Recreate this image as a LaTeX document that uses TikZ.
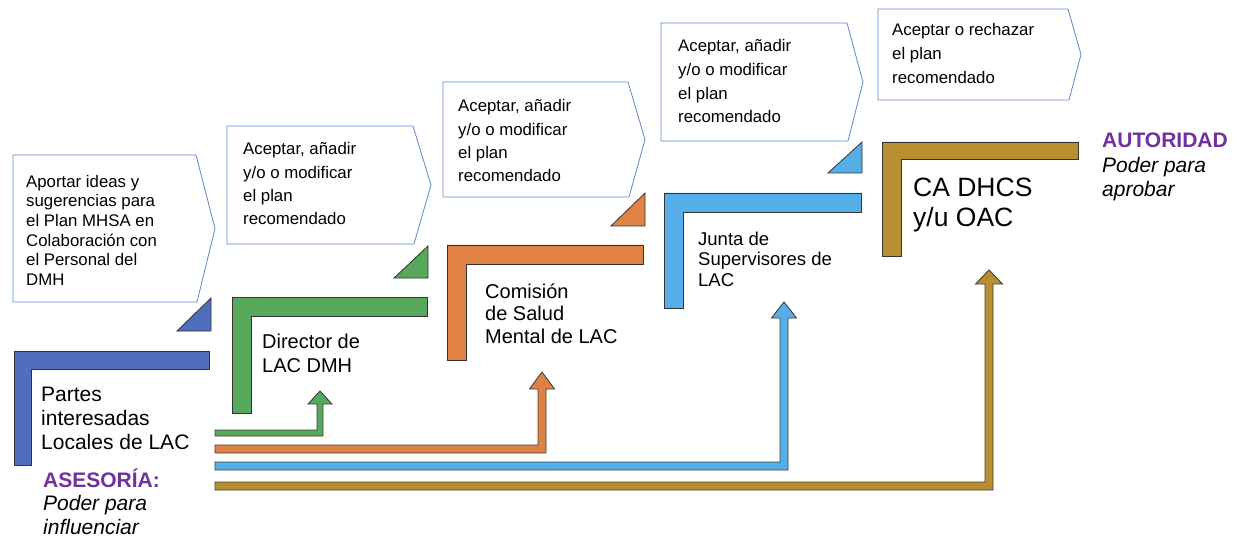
\documentclass[tikz,border=0pt]{standalone}
\usepackage{fontspec}
\setmainfont{Liberation Sans}
\usepackage{tikz}
\usetikzlibrary{calc}
\definecolor{stakeblue}{HTML}{4F6FBE}
\definecolor{dmhgreen}{HTML}{57A85B}
\definecolor{mhcorange}{HTML}{DF8243}
\definecolor{bosblue}{HTML}{55AEE8}
\definecolor{dhcsgold}{HTML}{B78F30}
\definecolor{calloutline}{HTML}{5A8ACF}
\definecolor{powerpurple}{HTML}{7030A0}

% L-shaped step: colour, x0, y0, x1, bar bottom, inner x, bottom
\newcommand\stepL[7]{\draw[stepshape, fill=#1] (#2,#3) -- (#4,#3) -- (#4,#5) -- (#6,#5) -- (#6,#7) -- (#2,#7) -- cycle;}
% small wedge under each callout: colour, left x, right x, bottom y, top y
\newcommand\stepwedge[5]{\draw[stepshape, fill=#1] (#2,#4) -- (#3,#4) -- (#3,#5) -- cycle;}
% callout: left, top, corner x, bottom, point x
\newcommand\calloutbox[5]{\draw[calloutshape] (#1,#2) -- (#3,#2) -- (#5,{(#2+#4)/2}) -- (#3+1,#4) -- (#1,#4) -- cycle;}
% bent arrow: colour, from, to, half shaft, half head, head length
\newcommand\flowarrow[6]{\draw[flowshape, fill=#1] let \p1=(#2), \p2=(#3) in
  (\x1,\y1+#4) -- (\x2-#4,\y1+#4) -- (\x2-#4,\y2-#6) -- (\x2-#5,\y2-#6) -- (\x2,\y2)
  -- (\x2+#5,\y2-#6) -- (\x2+#4,\y2-#6) -- (\x2+#4,\y1-#4) -- (\x1,\y1-#4) -- cycle;}

\begin{document}
\begin{tikzpicture}[x=1pt, y=-1pt,
    stepshape/.style={draw=black!80, line width=0.8pt},
    flowshape/.style={draw=black!75, line width=0.9pt, line join=miter},
    calloutshape/.style={draw=calloutline, line width=0.8pt, fill=white},
    boxtext/.style={anchor=base west, inner sep=0pt, align=left, font=\fontsize{16.8}{23.4}\selectfont},
    steptext/.style={anchor=base west, inner sep=0pt, align=left, font=\fontsize{20}{24}\selectfont},
    powertext/.style={anchor=base west, inner sep=0pt, align=left, font=\fontsize{21}{23.5}\selectfont}]
  \useasboundingbox (0,0) rectangle (1237,540);

  % callouts (text nodes sit on their last baseline)
  \calloutbox{13}{155}{196}{302}{215}
  \calloutbox{227}{126}{413}{244}{431}
  \calloutbox{443}{82}{628}{197}{645}
  \calloutbox{661}{23}{847}{141}{863}
  \calloutbox{878}{9}{1068}{100}{1081}

  \node[boxtext, font=\fontsize{16.8}{19.7}\selectfont] (aporte) at (26,285.5) {Aportar ideas y\\sugerencias para\\el Plan MHSA en\\Colaboración con\\el Personal del\\DMH};
  \node[boxtext] (acepta2) at (243,225) {Aceptar, añadir\\y/o o modificar\\el plan\\recomendado};
  \node[boxtext] (acepta3) at (458,182) {Aceptar, añadir\\y/o o modificar\\el plan\\recomendado};
  \node[boxtext, font=\fontsize{16.8}{23.7}\selectfont] (acepta4) at (678,123) {Aceptar, añadir\\y/o o modificar\\el plan\\recomendado};
  \node[boxtext, font=\fontsize{16.8}{24}\selectfont] (rechaza) at (892,84) {Aceptar o rechazar\\el plan\\recomendado};

  % steps
  \stepwedge{stakeblue}{177}{211}{331}{298}
  \stepwedge{dmhgreen}{394}{428}{278}{246}
  \stepwedge{mhcorange}{611}{645}{226}{193}
  \stepwedge{bosblue}{828}{862}{173}{142}

  \stepL{stakeblue}{14}{351}{209}{369}{31}{465}
  \stepL{dmhgreen}{232}{297}{427}{316}{251}{413}
  \stepL{mhcorange}{447}{245}{643}{264}{466}{360}
  \stepL{bosblue}{664}{193}{861}{212}{683}{308}
  \stepL{dhcsgold}{882}{142}{1078}{159}{901}{256}

  \node[steptext, font=\fontsize{21}{24}\selectfont] (partes) at (41,449) {Partes\\interesadas\\Locales de LAC};
  \node[steptext] (director) at (262,372) {Director de\\LAC DMH};
  \node[steptext, font=\fontsize{20}{22.5}\selectfont] (comision) at (485,343) {Comisión\\de Salud\\Mental de LAC};
  \node[steptext, font=\fontsize{18.5}{21}\selectfont] (junta) at (698,287) {Junta de\\Supervisores de\\LAC};
  \node[steptext, font=\fontsize{26.5}{30}\selectfont] (cadhcs) at (913,227) {CA DHCS\\y/u OAC};

  \node[powertext] (asesoria) at (43,534) {\textcolor{powerpurple}{\bfseries ASESORÍA:}\\\itshape Poder para\\\itshape influenciar};
  \node[powertext, font=\fontsize{21}{24.5}\selectfont] (autoridad) at (1102,197) {\textcolor{powerpurple}{\bfseries AUTORIDAD}\\\itshape Poder para\\\itshape aprobar};

  % arrows from the stakeholders
  \coordinate (src-dir) at (215,433);
  \coordinate (src-com) at (215,449);
  \coordinate (src-bos) at (215,466);
  \coordinate (src-dhcs) at (215,486);
  \coordinate (in-dir) at (320,391);
  \coordinate (in-com) at (542,372);
  \coordinate (in-bos) at (784,302);
  \coordinate (in-dhcs) at (989,270);

  \flowarrow{dhcsgold}{src-dhcs}{in-dhcs}{4pt}{13.5pt}{14pt}
  \flowarrow{bosblue}{src-bos}{in-bos}{4pt}{12.5pt}{16pt}
  \flowarrow{mhcorange}{src-com}{in-com}{4pt}{12.5pt}{17pt}
  \flowarrow{dmhgreen}{src-dir}{in-dir}{3pt}{12pt}{13pt}
\end{tikzpicture}
\end{document}
